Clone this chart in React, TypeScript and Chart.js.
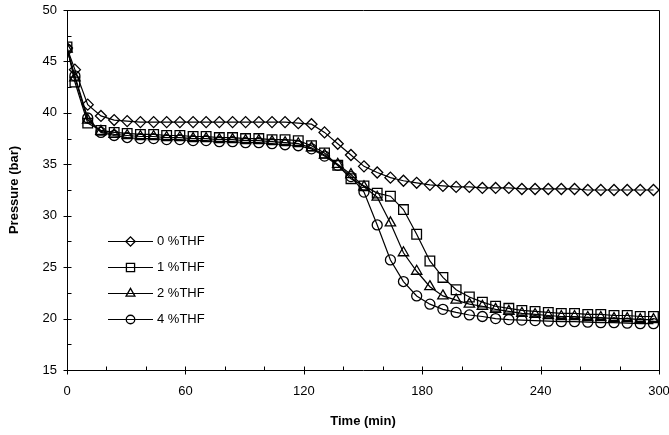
import { useEffect, useRef } from 'react';
import { Chart, registerables } from 'chart.js';
import { drawPoint } from 'chart.js/helpers';

Chart.register(...registerables);

// Sampling times (min)
const timeMin = [
  0, 4, 10.5, 17.2, 23.9, 30.5, 37.2, 43.9, 50.5, 57.2, 63.9, 70.5, 77.2, 83.9, 90.5, 97.2,
  103.9, 110.5, 117.2, 123.9, 130.5, 137.2, 143.9, 150.5, 157.2, 163.9, 170.5, 177.2, 183.9,
  190.5, 197.2, 203.9, 210.5, 217.2, 223.9, 230.5, 237.2, 243.9, 250.5, 257.2, 263.9, 270.5,
  277.2, 283.9, 290.5, 297.2,
];

// Pressure (bar) for each THF concentration
const thf0 = [
  46.3, 44.2, 40.8, 39.7, 39.3, 39.2, 39.1, 39.1, 39.1, 39.1, 39.1, 39.1, 39.1, 39.1, 39.1, 39.1,
  39.1, 39.1, 39.0, 38.9, 38.1, 37.0, 35.9, 34.8, 34.2, 33.7, 33.4, 33.2, 33.0, 32.9, 32.8, 32.8,
  32.7, 32.7, 32.7, 32.6, 32.6, 32.6, 32.6, 32.6, 32.5, 32.5, 32.5, 32.5, 32.5, 32.5,
];
const thf1 = [
  46.4, 43.0, 39.0, 38.3, 38.1, 38.0, 37.9, 37.9, 37.8, 37.8, 37.7, 37.7, 37.6, 37.6, 37.5, 37.5,
  37.4, 37.4, 37.3, 36.8, 36.1, 34.9, 33.6, 32.9, 32.2, 31.9, 30.6, 28.2, 25.6, 24.0, 22.8, 22.1,
  21.6, 21.2, 21.0, 20.8, 20.7, 20.6, 20.5, 20.5, 20.4, 20.4, 20.3, 20.3, 20.2, 20.2,
];
const thf2 = [
  46.2, 43.4, 39.3, 38.2, 37.9, 37.8, 37.7, 37.7, 37.6, 37.6, 37.5, 37.5, 37.4, 37.4, 37.3, 37.3,
  37.2, 37.1, 37.0, 36.6, 35.9, 35.0, 34.0, 32.8, 31.8, 29.3, 26.4, 24.6, 23.1, 22.2, 21.8, 21.4,
  21.2, 20.9, 20.7, 20.5, 20.4, 20.3, 20.2, 20.2, 20.1, 20.1, 20.0, 20.0, 19.9, 19.9,
];
const thf4 = [
  46.2, 43.6, 39.5, 38.1, 37.8, 37.6, 37.5, 37.5, 37.4, 37.4, 37.3, 37.3, 37.2, 37.2, 37.1, 37.1,
  37.0, 36.9, 36.8, 36.5, 35.8, 34.9, 33.8, 32.3, 29.1, 25.7, 23.6, 22.2, 21.4, 20.9, 20.6, 20.35,
  20.2, 20.0, 19.9, 19.85, 19.8, 19.75, 19.7, 19.7, 19.65, 19.6, 19.6, 19.55, 19.5, 19.5,
];

const seriesLabels = ['0 %THF', '1 %THF', '2 %THF', '4 %THF'];
const seriesValues = [thf0, thf1, thf2, thf4];
const markerStyles = ['rectRot', 'rect', 'triangle', 'circle'];
const markerRadii = [5.5, 6.8, 6, 5];

const xTickValues = [0, 60, 120, 180, 240, 300];
const yTickValues = [15, 20, 25, 30, 35, 40, 45, 50];

const FONT = "'Liberation Sans', Arial, sans-serif";

const decorPlugin = {
  id: 'decor',
  afterDatasetsDraw(chart: any) {
    const { ctx, chartArea, scales } = chart;
    const { left, top, right, bottom } = chartArea;
    const x = scales.x;
    const y = scales.y;
    const L = Math.round(left) + 0.5;
    const R = Math.round(right) + 0.5;
    const T = Math.round(top) + 0.5;
    const B = Math.round(bottom) + 0.5;

    ctx.save();
    ctx.strokeStyle = '#000';
    ctx.lineWidth = 1;
    ctx.beginPath();
    ctx.rect(L, T, R - L, B - T);
    ctx.stroke();

    // y ticks: majors cross the axis, minors sit inside
    ctx.beginPath();
    for (let i = 0; i < yTickValues.length; i++) {
      const py = Math.round(y.getPixelForValue(yTickValues[i])) + 0.5;
      ctx.moveTo(L - 4, py);
      ctx.lineTo(L + 4, py);
      if (i < yTickValues.length - 1) {
        const pm = Math.round(y.getPixelForValue(yTickValues[i] + 2.5)) + 0.5;
        ctx.moveTo(L, pm);
        ctx.lineTo(L + 4, pm);
      }
    }
    // x ticks
    for (let i = 0; i < xTickValues.length; i++) {
      const px = Math.round(x.getPixelForValue(xTickValues[i])) + 0.5;
      ctx.moveTo(px, B - 4);
      ctx.lineTo(px, B + 4);
      if (i < xTickValues.length - 1) {
        for (const off of [20, 40]) {
          const pm = Math.round(x.getPixelForValue(xTickValues[i] + off)) + 0.5;
          ctx.moveTo(pm, B - 4);
          ctx.lineTo(pm, B);
        }
      }
    }
    ctx.stroke();

    // axis titles
    ctx.fillStyle = '#000';
    ctx.font = `bold 13px ${FONT}`;
    ctx.textAlign = 'center';
    ctx.textBaseline = 'middle';
    ctx.fillText('Time (min)', (left + right) / 2, 421);
    ctx.save();
    ctx.translate(14, (top + bottom) / 2);
    ctx.rotate(-Math.PI / 2);
    ctx.fillText('Pressure (bar)', 0, 0);
    ctx.restore();

    // legend
    const rowY = [241, 267, 293, 319];
    ctx.font = `13px ${FONT}`;
    ctx.textAlign = 'left';
    for (let i = 0; i < seriesLabels.length; i++) {
      const ry = rowY[i] + 0.5;
      ctx.strokeStyle = '#000';
      ctx.lineWidth = 1.2;
      ctx.beginPath();
      ctx.moveTo(108, ry);
      ctx.lineTo(153, ry);
      ctx.stroke();
      ctx.lineWidth = 1.3;
      ctx.fillStyle = 'rgba(0,0,0,0)';
      drawPoint(ctx, { pointStyle: markerStyles[i], radius: markerRadii[i] * 0.85, rotation: 0, borderWidth: 1.3 } as any, 130.5, ry);
      ctx.fillStyle = '#000';
      ctx.fillText(seriesLabels[i], 157, ry);
    }
    ctx.restore();
  },
};

export default function App() {
  const canvasRef = useRef<HTMLCanvasElement | null>(null);

  useEffect(() => {
    document.body.style.margin = '0';
    const canvas = canvasRef.current;
    if (!canvas) return;

    const datasets = seriesValues.map((vals, i) => ({
      label: seriesLabels[i],
      data: timeMin.map((t, j) => ({ x: t, y: vals[j] })),
      borderColor: '#000',
      borderWidth: 1.2,
      pointStyle: markerStyles[i],
      pointRadius: markerRadii[i],
      pointBorderColor: '#000',
      pointBorderWidth: 1.3,
      pointBackgroundColor: 'rgba(0,0,0,0)',
      tension: 0,
      fill: false,
    }));

    const chart = new Chart(canvas, {
      type: 'line',
      data: { datasets },
      options: {
        responsive: false,
        animation: false,
        devicePixelRatio: 1,
        layout: { padding: { left: 0, right: 10, top: 10, bottom: 0 } },
        plugins: { legend: { display: false }, tooltip: { enabled: false } },
        scales: {
          x: {
            type: 'linear',
            min: 0,
            max: 300,
            grid: { display: false, drawTicks: false },
            border: { display: false },
            afterBuildTicks: (s: any) => {
              s.ticks = xTickValues.map((v) => ({ value: v }));
            },
            afterFit: (s: any) => {
              s.height = 65;
              s.paddingLeft = 0;
              s.paddingRight = 0;
            },
            ticks: {
              color: '#000',
              font: { family: FONT, size: 13 },
              padding: 14,
              maxRotation: 0,
              autoSkip: false,
            },
          },
          y: {
            type: 'linear',
            min: 15,
            max: 50,
            grid: { display: false, drawTicks: false },
            border: { display: false },
            afterBuildTicks: (s: any) => {
              s.ticks = yTickValues.map((v) => ({ value: v }));
            },
            afterFit: (s: any) => {
              s.width = 67;
              s.paddingTop = 0;
              s.paddingBottom = 0;
            },
            ticks: {
              color: '#000',
              font: { family: FONT, size: 13 },
              padding: 10,
            },
          },
        },
      },
      plugins: [decorPlugin],
    });

    return () => chart.destroy();
  }, []);

  return (
    <div style={{ width: 669, height: 435, background: '#fff' }}>
      <canvas ref={canvasRef} width={669} height={435} style={{ display: 'block' }} />
    </div>
  );
}
